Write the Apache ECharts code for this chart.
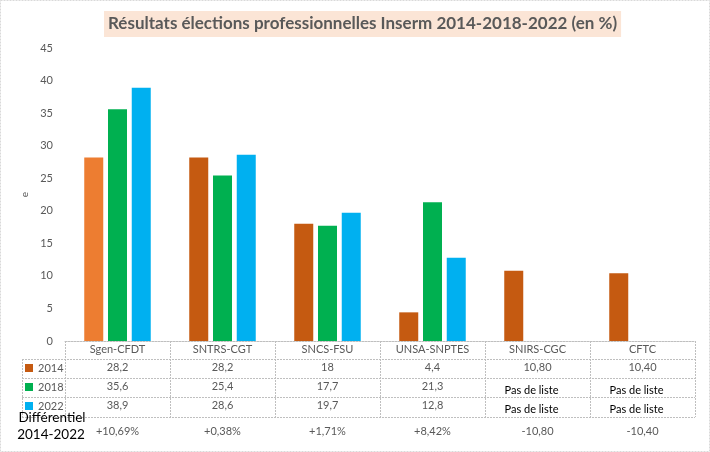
<!DOCTYPE html>
<html>
<head>
<meta charset="utf-8">
<script src="https://cdn.jsdelivr.net/npm/echarts@6/dist/echarts.min.js"></script>
<style>
  html, body { margin: 0; padding: 0; background: #fff; }
  #chart { width: 710px; height: 452px; }
</style>
</head>
<body>
<div id="chart"></div>
<script>
// ---- data ----
const categories = ['Sgen-CFDT', 'SNTRS-CGT', 'SNCS-FSU', 'UNSA-SNPTES', 'SNIRS-CGC', 'CFTC'];
const years = ['2014', '2018', '2022'];
const values2014 = [28.2, 28.2, 18, 4.4, 10.8, 10.4];
const values2018 = [35.6, 25.4, 17.7, 21.3, null, null];
const values2022 = [38.9, 28.6, 19.7, 12.8, null, null];
const table2014 = ['28,2', '28,2', '18', '4,4', '10,80', '10,40'];
const table2018 = ['35,6', '25,4', '17,7', '21,3', 'Pas de liste', 'Pas de liste'];
const table2022 = ['38,9', '28,6', '19,7', '12,8', 'Pas de liste', 'Pas de liste'];
const differentiel = ['+10,69%', '+0,38%', '+1,71%', '+8,42%', '-10,80', '-10,40'];
const yTicks = [0, 5, 10, 15, 20, 25, 30, 35, 40, 45];

const FONT = 'Lato, "Open Sans", sans-serif';
const GRAY = '#595959';
const LINE = '#BFBFBF';

const chart = echarts.init(document.getElementById('chart'), null, { renderer: 'canvas' });

function cell(txt) {
  return txt === 'Pas de liste' ? '{p|' + txt + '}' : '{v|' + txt + '}';
}

const option = {
  animation: false,
  backgroundColor: '#fff',
  title: {
    text: 'Résultats élections professionnelles Inserm 2014-2018-2022 (en %)',
    left: 104,
    top: 11,
    padding: [3, 4, 3, 4],
    backgroundColor: '#FBE5D6',
    textStyle: { fontFamily: FONT, fontWeight: 'bold', fontSize: 17, color: GRAY, lineHeight: 20 }
  },
  legend: {
    orient: 'vertical',
    left: 25,
    top: 358.5,
    padding: 0,
    itemGap: 0,
    itemWidth: 8,
    itemHeight: 8,
    icon: 'rect',
    selectedMode: false,
    textStyle: { fontFamily: FONT, fontSize: 11, color: GRAY, lineHeight: 19 },
    data: years
  },
  grid: { left: 65, right: 15, top: 48, bottom: 111, containLabel: false },
  xAxis: {
    type: 'category',
    data: categories,
    z: 5,
    axisLine: { show: true, lineStyle: { color: LINE, width: 1, type: [2, 1] } },
    axisTick: { show: true, interval: 0, length: 76, alignWithLabel: false, lineStyle: { color: LINE, width: 1, type: [2, 1] } },
    axisLabel: {
      interval: 0,
      margin: 0,
      fontFamily: FONT,
      formatter: function (value, idx) {
        return '{h|' + value + '}\n' +
          cell(table2014[idx]) + '\n' +
          cell(table2018[idx]) + '\n' +
          cell(table2022[idx]) + '\n' +
          '{d|' + differentiel[idx] + '}';
      },
      rich: {
        h: { fontFamily: FONT, fontSize: 11, color: GRAY, lineHeight: 17 },
        v: { fontFamily: FONT, fontSize: 11, color: GRAY, lineHeight: 19 },
        p: { fontFamily: FONT, fontSize: 11, color: '#000', lineHeight: 19, verticalAlign: 'bottom', padding: [0, 12, 0, 0] },
        d: { fontFamily: FONT, fontSize: 11, color: GRAY, lineHeight: 32 }
      }
    }
  },
  yAxis: {
    type: 'value',
    min: 0,
    max: 45,
    interval: 5,
    name: 'e',
    nameLocation: 'middle',
    nameGap: 35,
    nameRotate: 90,
    nameTextStyle: { fontFamily: FONT, fontSize: 10, color: GRAY },
    axisLine: { show: false },
    axisTick: { show: false },
    splitLine: { show: false },
    axisLabel: {
      margin: 12,
      fontFamily: FONT,
      fontSize: 11,
      color: GRAY,
      customValues: yTicks
    }
  },
  series: [
    {
      name: '2014', type: 'bar', barWidth: 19, barGap: '25%',
      itemStyle: { color: '#C55A11' },
      data: values2014.map(function (v, i) { return i === 0 ? { value: v, itemStyle: { color: '#ED7D31' } } : v; })
    },
    {
      name: '2018', type: 'bar', barWidth: 19, barGap: '25%',
      itemStyle: { color: '#00B050' },
      data: values2018
    },
    {
      name: '2022', type: 'bar', barWidth: 19, barGap: '25%',
      itemStyle: { color: '#00B0F0' },
      data: values2022
    }
  ],
  graphic: [
    { type: 'rect', silent: true, z: -10, shape: { x: 0.5, y: 0.5, width: 709, height: 451 }, style: { fill: null, stroke: '#D9D9D9', lineWidth: 1, lineDash: [2, 1] } },
    { type: 'line', silent: true, shape: { x1: 22, y1: 359.5, x2: 695, y2: 359.5 }, style: { stroke: LINE, lineWidth: 1, lineDash: [2, 1] } },
    { type: 'line', silent: true, shape: { x1: 22, y1: 378.5, x2: 695, y2: 378.5 }, style: { stroke: LINE, lineWidth: 1, lineDash: [2, 1] } },
    { type: 'line', silent: true, shape: { x1: 22, y1: 397.5, x2: 695, y2: 397.5 }, style: { stroke: LINE, lineWidth: 1, lineDash: [2, 1] } },
    { type: 'line', silent: true, shape: { x1: 22, y1: 417.5, x2: 695, y2: 417.5 }, style: { stroke: LINE, lineWidth: 1, lineDash: [2, 1] } },
    { type: 'line', silent: true, shape: { x1: 22.5, y1: 359, x2: 22.5, y2: 417 }, style: { stroke: LINE, lineWidth: 1, lineDash: [2, 1] } },
    { type: 'text', silent: true, z: 10, x: 52, y: 418, style: { text: 'Différentiel', fontFamily: FONT, fontSize: 13.5, fill: '#000', align: 'center', verticalAlign: 'middle' } },
    { type: 'text', silent: true, z: 10, x: 51, y: 435, style: { text: '2014-2022', fontFamily: FONT, fontSize: 13.5, fill: '#000', align: 'center', verticalAlign: 'middle' } }
  ]
};

chart.setOption(option);
</script>
</body>
</html>
